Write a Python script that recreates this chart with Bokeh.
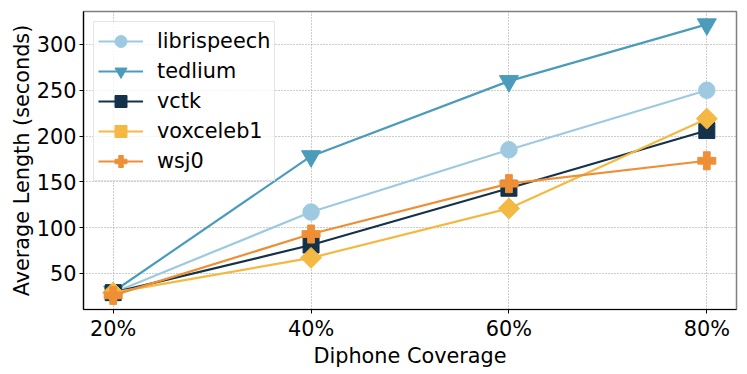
import math
from bokeh.plotting import figure
from bokeh.models import FixedTicker, Range1d, ColumnDataSource
from bokeh.embed import file_html
from bokeh.resources import INLINE

coverage = [20, 40, 60, 80]
coverage_labels = ["20%", "40%", "60%", "80%"]
librispeech = [29, 117, 185, 250]
tedlium = [30, 178, 260, 322]
vctk = [29, 81, 143, 206]
voxceleb1 = [29, 67, 121, 219]
wsj0 = [26, 93, 148, 173]
y_ticks = [50, 100, 150, 200, 250, 300]

series = [
    ("librispeech", librispeech, "#9ecae1", "circle", 16.5, 0.0),
    ("tedlium", tedlium, "#4b9cbb", "inverted_triangle", 19, 0.0),
    ("vctk", vctk, "#14324a", "square", 16, 0.0),
    ("voxceleb1", voxceleb1, "#f4b942", "square", 14.8, math.pi / 4),
    ("wsj0", wsj0, "#ef8f35", "plus", 18, 0.0),
]

FONT = "DejaVu Sans"
FS = "20.8px"

p = figure(width=747, height=374, output_backend="svg", toolbar_location=None,
           x_range=Range1d(17.0, 83.0), y_range=Range1d(10.6, 336),
           min_border_left=83, min_border_right=11, min_border_top=11, min_border_bottom=65)

for name, vals, color, marker, size, ang in series:
    src = ColumnDataSource(dict(x=coverage, y=vals, ang=[ang] * len(vals)))
    p.line("x", "y", source=src, line_color=color, line_width=2.2, legend_label=name)
    p.scatter("x", "y", source=src, marker=marker, size=size, angle="ang",
              fill_color=color, line_color=color, legend_label=name)

p.xaxis.ticker = FixedTicker(ticks=coverage)
p.xaxis.major_label_overrides = {c: l for c, l in zip(coverage, coverage_labels)}
p.yaxis.ticker = FixedTicker(ticks=y_ticks)

for ax in (p.xaxis[0], p.yaxis[0]):
    ax.major_label_text_font = FONT
    ax.major_label_text_font_size = FS
    ax.major_label_text_color = "black"
    ax.axis_label_text_font = FONT
    ax.axis_label_text_font_size = FS
    ax.axis_label_text_font_style = "normal"
    ax.axis_label_text_color = "black"
    ax.axis_line_color = "black"
    ax.axis_line_width = 1.2
    ax.major_tick_line_color = "black"
    ax.major_tick_out = 4
    ax.major_tick_in = 0
    ax.minor_tick_line_color = None
    ax.major_label_standoff = 3
    ax.axis_label_standoff = 0

p.xaxis.axis_label = "Diphone Coverage"
p.yaxis.axis_label = "Average Length (seconds)"

p.xgrid.ticker = FixedTicker(ticks=coverage)
p.ygrid.ticker = FixedTicker(ticks=y_ticks)
for g in (p.xgrid[0], p.ygrid[0]):
    g.grid_line_color = "#808080"
    g.grid_line_dash = "1 2"
    g.grid_line_width = 0.8

p.outline_line_color = "#808080"
p.outline_line_width = 1.5

lg = p.legend[0]
lg.location = "top_left"
lg.margin = 10
lg.padding = 4
lg.spacing = 0
lg.glyph_height = 30
lg.glyph_width = 45
lg.label_height = 30
lg.label_standoff = 14
lg.label_text_font = FONT
lg.label_text_font_size = FS
lg.label_text_color = "black"
lg.border_line_color = "#cccccc"
lg.border_line_width = 1
lg.background_fill_alpha = 0.8

open("out.html", "w").write(file_html(p, INLINE))
